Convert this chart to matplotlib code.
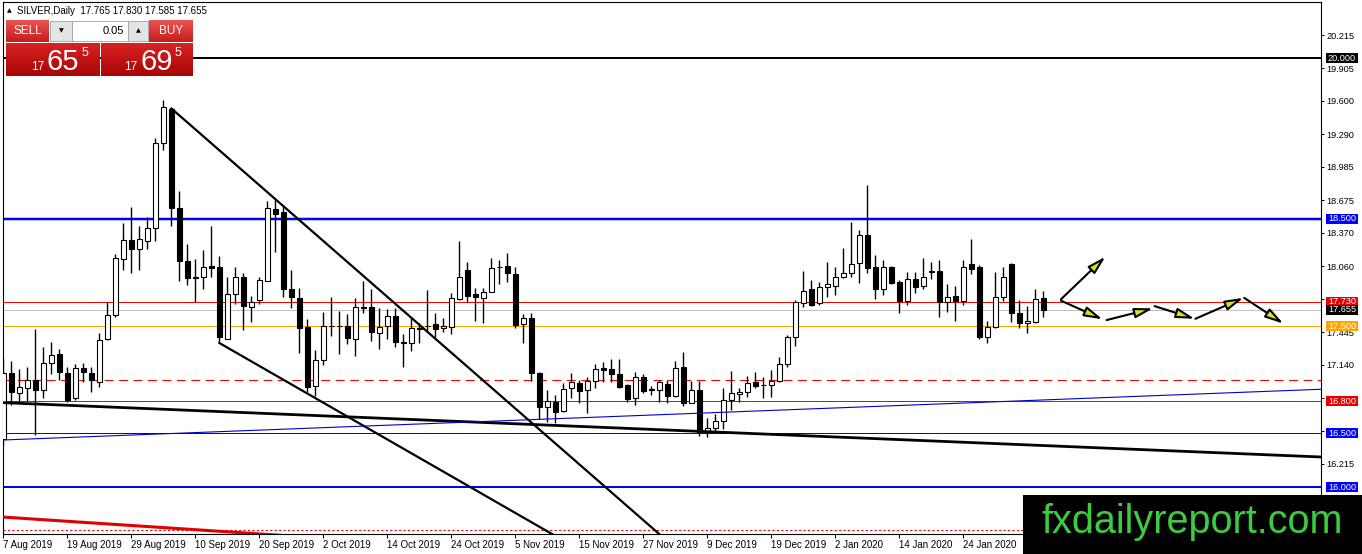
import numpy as np
import matplotlib
matplotlib.use("Agg")
import matplotlib.pyplot as plt
from matplotlib.patches import Rectangle, FancyArrowPatch
from matplotlib.colors import to_rgb
from matplotlib import transforms

plt.rcParams['font.family'] = ['Liberation Sans', 'DejaVu Sans']

W, H = 1362, 554
PT = 0.72  # points per pixel at dpi 100
PLOT_W = 1318  # plot area width in pixels

# SILVER daily bars, bar 0 = 7 Aug 2019
opens = [
    16.45, 17.06, 16.88, 16.92, 17.00, 16.905, 17.16, 17.24, 17.06, 16.83,
    17.11, 17.06, 16.98, 17.38, 17.60, 18.13, 18.30, 18.22, 18.29, 18.42,
    19.21, 19.525, 18.60, 18.11, 17.96, 17.955, 18.06, 18.05, 17.38, 17.80,
    17.955, 17.68, 17.74, 17.925, 18.59, 18.56, 17.85, 17.766, 17.496, 16.94,
    17.185, 17.505, 17.505, 17.505, 17.38, 17.676, 17.676, 17.44, 17.505, 17.595,
    17.35, 17.34, 17.48, 17.505, 17.517, 17.48, 17.496, 17.75, 18.024, 17.80,
    17.76, 17.822, 18.055, 18.06, 17.984, 17.517, 17.573, 17.061, 16.75, 16.797,
    16.712, 16.92, 16.974, 16.905, 16.989, 17.107, 17.097, 17.053, 16.951, 16.827,
    17.023, 16.91, 16.905, 16.958, 16.849, 17.116, 16.787, 16.905, 16.516, 16.55,
    16.62, 16.811, 16.867, 16.889, 16.976, 16.95, 16.95, 16.989, 17.147, 17.396,
    17.72, 17.846, 17.713, 17.862, 17.877, 17.961, 17.999, 18.086, 18.35, 18.048,
    17.843, 18.048, 17.908, 17.738, 17.937, 17.877, 18.008, 18.014, 17.728, 17.781,
    17.738, 18.076, 18.048, 17.402, 17.489, 17.775, 18.076, 17.62, 17.533, 17.542,
    17.765]
highs = [
    17.20, 17.175, 17.10, 17.12, 17.47, 17.31, 17.35, 17.29, 17.12, 17.15,
    17.16, 17.12, 17.44, 17.73, 18.17, 18.465, 18.61, 18.43, 18.52, 19.25,
    19.61, 19.53, 18.76, 18.27, 18.13, 18.21, 18.43, 18.15, 17.955, 18.05,
    18.00, 17.78, 17.96, 18.67, 18.69, 18.63, 18.02, 17.86, 17.567, 17.28,
    17.63, 17.77, 17.645, 17.61, 17.76, 17.92, 17.85, 17.667, 17.66, 17.667,
    17.427, 17.58, 17.53, 17.838, 17.62, 17.58, 17.807, 18.294, 18.10, 17.853,
    17.853, 18.133, 18.117, 18.18, 18.05, 17.614, 17.62, 17.077, 16.905, 16.859,
    16.974, 17.067, 17.00, 17.03, 17.147, 17.163, 17.19, 17.19, 16.96, 17.076,
    17.054, 16.94, 16.998, 16.998, 17.175, 17.256, 16.992, 16.992, 16.64, 16.678,
    16.92, 17.082, 16.92, 17.038, 17.076, 17.023, 17.09, 17.209, 17.418, 17.744,
    18.017, 17.93, 17.915, 18.101, 18.055, 18.226, 18.474, 18.397, 18.816, 18.163,
    18.117, 18.06, 17.93, 18.002, 18.002, 18.132, 18.10, 18.117, 17.893, 17.875,
    18.117, 18.313, 18.07, 17.548, 18.002, 18.055, 18.085, 17.744, 17.688, 17.846,
    17.830]
lows = [
    16.39, 16.765, 16.80, 16.80, 16.49, 16.83, 17.05, 17.00, 16.79, 16.81,
    16.98, 16.89, 16.93, 17.37, 17.59, 18.02, 18.00, 18.02, 18.22, 18.29,
    19.14, 18.43, 17.92, 17.88, 17.73, 17.85, 17.955, 17.34, 17.38, 17.71,
    17.46, 17.54, 17.71, 17.925, 18.19, 17.77, 17.67, 17.25, 16.89, 16.85,
    17.14, 17.41, 17.24, 17.33, 17.225, 17.62, 17.365, 17.287, 17.378, 17.303,
    17.117, 17.272, 17.347, 17.449, 17.40, 17.449, 17.427, 17.74, 17.73, 17.55,
    17.533, 17.82, 17.894, 17.915, 17.48, 17.34, 16.992, 16.632, 16.61, 16.594,
    16.70, 16.827, 16.78, 16.687, 16.92, 16.98, 16.98, 16.925, 16.796, 16.765,
    16.88, 16.858, 16.796, 16.78, 16.84, 16.756, 16.78, 16.479, 16.47, 16.507,
    16.54, 16.718, 16.79, 16.842, 16.92, 16.833, 16.842, 16.98, 17.122, 17.315,
    17.68, 17.69, 17.70, 17.769, 17.79, 17.95, 17.961, 17.899, 17.999, 17.75,
    17.79, 17.89, 17.626, 17.697, 17.812, 17.846, 17.94, 17.588, 17.635, 17.551,
    17.697, 17.986, 17.38, 17.34, 17.48, 17.738, 17.54, 17.48, 17.439, 17.53,
    17.585]
closes = [
    17.06, 16.89, 16.93, 17.00, 16.905, 17.16, 17.23, 17.07, 16.81, 17.11,
    17.07, 17.00, 17.37, 17.60, 18.14, 18.30, 18.22, 18.31, 18.42, 19.21,
    19.54, 18.60, 18.11, 17.95, 17.95, 18.055, 18.045, 17.395, 17.80, 17.96,
    17.69, 17.73, 17.93, 18.60, 18.55, 17.85, 17.77, 17.48, 16.936, 17.185,
    17.505, 17.50, 17.50, 17.387, 17.676, 17.67, 17.449, 17.496, 17.598, 17.356,
    17.345, 17.48, 17.478, 17.50, 17.47, 17.50, 17.76, 17.962, 17.78, 17.77,
    17.816, 18.046, 18.05, 17.993, 17.511, 17.573, 17.061, 16.744, 16.806, 16.703,
    16.911, 16.977, 16.90, 16.992, 17.10, 17.09, 17.05, 16.935, 16.818, 17.023,
    16.898, 16.905, 16.976, 16.849, 17.107, 16.787, 16.905, 16.516, 16.547, 16.619,
    16.811, 16.874, 16.889, 16.973, 16.945, 16.948, 16.992, 17.147, 17.396, 17.728,
    17.831, 17.697, 17.862, 17.89, 17.955, 17.993, 18.076, 18.35, 18.045, 17.843,
    18.048, 17.899, 17.738, 17.937, 17.868, 17.961, 18.01, 17.722, 17.775, 17.738,
    18.048, 18.03, 17.402, 17.495, 17.769, 17.961, 17.626, 17.526, 17.551, 17.75,
    17.655]

date_labels = ['7 Aug 2019', '19 Aug 2019', '29 Aug 2019', '10 Sep 2019', '20 Sep 2019',
               '2 Oct 2019', '14 Oct 2019', '24 Oct 2019', '5 Nov 2019', '15 Nov 2019',
               '27 Nov 2019', '9 Dec 2019', '19 Dec 2019', '2 Jan 2020', '14 Jan 2020',
               '24 Jan 2020']
DATE_STEP = 8

price_ticks = [20.215, 19.905, 19.600, 19.290, 18.985, 18.675, 18.370, 18.060,
               17.750, 17.445, 17.140, 16.830, 16.525, 16.215, 15.905]

# horizontal levels with price tags on the axis
levels = [20.000, 18.500, 17.730, 17.655, 17.500, 16.800, 16.500, 16.000]
level_colors = ['black', '#0000ff', '#ff0000', '#c0c0c0', '#ffa500', '#ff0000', '#0000ff', '#0000ff']
level_px = [2, 2.5, 1, 1, 1, 1, 1, 2]
tag_colors = ['black', '#0000ff', '#e80000', 'black', '#ffa500', '#e80000', '#0000ff', '#0000ff']
dashed_level = 17.000
dotted_level = 15.600

# trend lines (bar index, price)
upper_fall_x, upper_fall_y = [21, 90], [19.53, 15.04]
lower_fall_x, lower_fall_y = [27, 75], [17.343, 15.287]
base_line_x, base_line_y = [0, 170], [16.787, 16.264]
blue_rise_x, blue_rise_y = [0, 170], [16.439, 16.927]
red_low_x, red_low_y = [0, 40], [15.72, 15.524]

# forecast arrows
arrow_x0 = [132.2, 132.2, 137.9, 143.9, 149.0, 155.1]
arrow_y0 = [17.751, 17.738, 17.557, 17.687, 17.569, 17.764]
arrow_x1 = [137.75, 137.4, 143.7, 148.9, 155.0, 160.0]
arrow_y1 = [18.148, 17.564, 17.666, 17.569, 17.764, 17.524]


def fx(px):
    return px / W


def fy(py):
    return 1 - py / H


def fig_rect(x0, y0, x1, y1, **kw):
    r = Rectangle((fx(x0), fy(y1)), (x1 - x0) / W, (y1 - y0) / H,
                  transform=fig.transFigure, **kw)
    fig.add_artist(r)


def grad_rect(x0, y0, x1, y1, top, bot):
    a = fig.add_axes([fx(x0), fy(y1), (x1 - x0) / W, (y1 - y0) / H])
    t = np.linspace(0, 1, 40)[:, None, None]
    img = np.array(to_rgb(top)) * (1 - t) + np.array(to_rgb(bot)) * t
    a.imshow(img, aspect='auto', interpolation='bilinear')
    a.set_axis_off()


fig = plt.figure(figsize=(W / 100, H / 100), dpi=100)
ax = fig.add_axes([3 / W, 20 / H, PLOT_W / W, 532 / H])
x0 = -0.05
ax.set_xlim(x0, x0 + PLOT_W / 8)
ax.set_ylim(15.5623, 20.5227)

# levels
for lv, c, w in zip(levels, level_colors, level_px):
    ax.axhline(lv, color=c, lw=w * PT, zorder=1)
ax.axhline(dashed_level, color='#ff0000', lw=0.8, dashes=(8, 5), zorder=1)
ax.axhline(dotted_level, color='#ff0000', lw=0.8, dashes=(2, 2), zorder=1)

# candles
o = np.array(opens)
c = np.array(closes)
xs = np.arange(len(o))
ax.vlines(xs, lows, highs, color='black', lw=1.0, zorder=2)
bottom = np.minimum(o, c)
height = np.maximum(np.abs(c - o), 0.006)
cols = np.where(c >= o, 'white', 'black')
ax.bar(xs, height, bottom=bottom, width=0.55, color=cols, edgecolor='black',
       linewidth=0.8, zorder=3)

# trend lines
ax.plot(upper_fall_x, upper_fall_y, color='black', lw=1.6, zorder=4)
ax.plot(lower_fall_x, lower_fall_y, color='black', lw=1.6, zorder=4)
ax.plot(base_line_x, base_line_y, color='black', lw=2.0, zorder=4)
ax.plot(blue_rise_x, blue_rise_y, color='#0000cc', lw=0.8, zorder=4)
ax.plot(red_low_x, red_low_y, color='#e00000', lw=2.2, zorder=4)

# forecast arrows
for a, b, cc, d in zip(arrow_x0, arrow_y0, arrow_x1, arrow_y1):
    ax.add_patch(FancyArrowPatch((a, b), (cc, d),
                                 arrowstyle='-|>,head_length=11,head_width=3',
                                 facecolor='#d6e31b', edgecolor='black', lw=1.5,
                                 shrinkA=0, shrinkB=0, zorder=6))

# axes styling
for sp in ax.spines.values():
    sp.set_linewidth(0.8)
ax.yaxis.tick_right()
ax.set_yticks(price_ticks)
ax.set_yticklabels([f'{v:.3f}' for v in price_ticks])
ax.tick_params(axis='y', direction='out', length=2.5, width=0.7, pad=1.5, labelsize=6.6)
ax.set_xticks(list(range(0, DATE_STEP * len(date_labels), DATE_STEP)))
ax.set_xticklabels(date_labels, ha='left')
ax.tick_params(axis='x', direction='out', length=3, width=0.7, pad=1.5, labelsize=7)

# price tags on the right axis
tr = transforms.blended_transform_factory(ax.transAxes, ax.transData)
tag_h = 10 / 107.25
for lv, tc in zip(levels, tag_colors):
    ax.add_patch(Rectangle((1323 / PLOT_W, lv - tag_h / 2), 32 / PLOT_W, tag_h, transform=tr,
                           facecolor=tc, edgecolor='none', clip_on=False, zorder=7))
    ax.text(1339 / PLOT_W, lv, f'{lv:.3f}', transform=tr, color='white', fontsize=6.6,
            ha='center', va='center', clip_on=False, zorder=8)

# header line
fig.text(fx(7), fy(10.5), '▲', fontsize=4.5, family='DejaVu Sans', va='center')
fig.text(fx(17), fy(10.5), 'SILVER,Daily  17.765 17.830 17.585 17.655', fontsize=7, va='center')

# one-click trading panel
grad_rect(6, 20, 49, 42, '#ea5450', '#c41c1c')
grad_rect(149, 20, 193, 42, '#ea5450', '#c41c1c')
fig_rect(50, 21, 72, 41, facecolor='#e4e4e4', edgecolor='#a0a0a0', lw=0.6)
fig_rect(72, 21, 128, 41, facecolor='white', edgecolor='#a0a0a0', lw=0.6)
fig_rect(128, 21, 148, 41, facecolor='#e4e4e4', edgecolor='#a0a0a0', lw=0.6)
grad_rect(6, 43, 99, 76, '#d82222', '#a80606')
grad_rect(101, 43, 193, 76, '#d82222', '#a80606')
fig.text(fx(27.5), fy(31), 'SELL', color='white', fontsize=8.5, ha='center', va='center')
fig.text(fx(171), fy(31), 'BUY', color='white', fontsize=8.5, ha='center', va='center')
fig.text(fx(61), fy(31), '▼', fontsize=4.5, family='DejaVu Sans', ha='center', va='center')
fig.text(fx(138), fy(31), '▲', fontsize=4.5, family='DejaVu Sans', ha='center', va='center')
fig.text(fx(124), fy(31), '0.05', fontsize=8, ha='right', va='center')
for px0, big in [(31, '65'), (124, '69')]:
    fig.text(fx(px0), fy(70), '17', color='white', fontsize=8.5, va='baseline')
    fig.text(fx(px0 + 16), fy(70), big, color='white', fontsize=21, va='baseline')
    fig.text(fx(px0 + 51), fy(47), '5', color='white', fontsize=9, va='top')

# watermark
fig_rect(1022.7, 495, 1362, 554, facecolor='black', edgecolor='none', zorder=10)
fig.text(fx(1042), fy(533), 'fxdailyreport.com', color='#3ccc3c', fontsize=28.5,
         va='baseline', ha='left', zorder=11)

fig.savefig('out.png', dpi=100, facecolor='white')
